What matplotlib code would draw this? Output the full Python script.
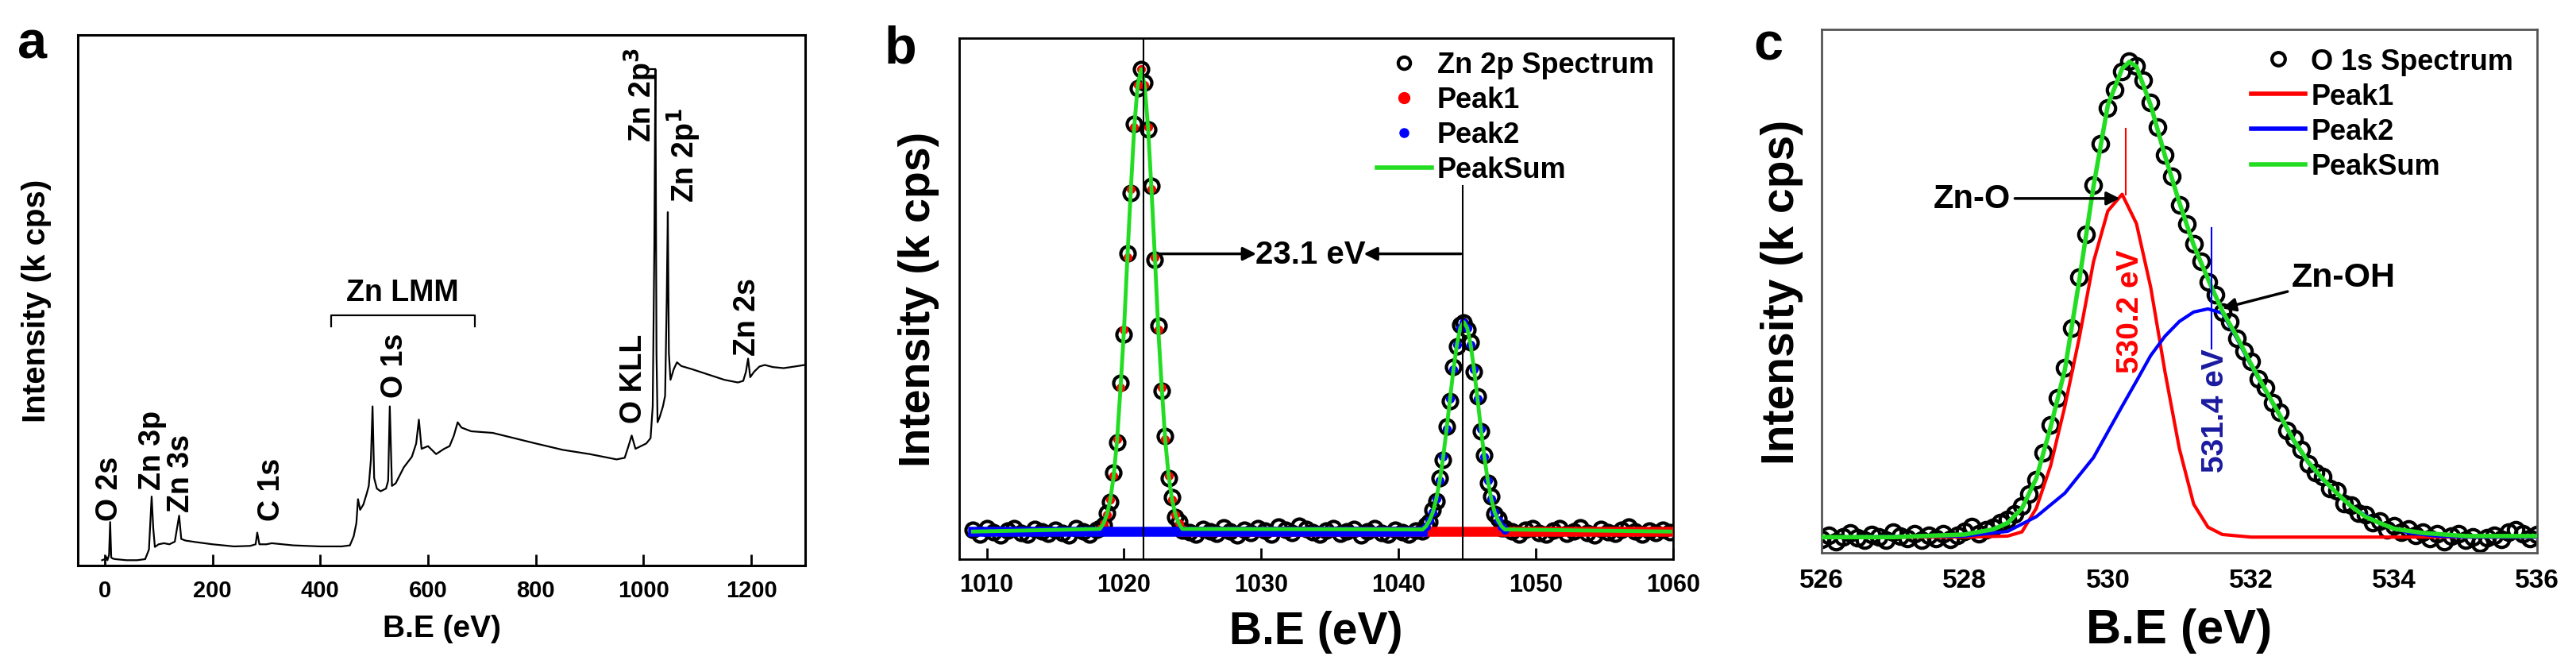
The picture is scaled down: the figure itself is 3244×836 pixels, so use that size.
import numpy as np
import matplotlib
matplotlib.use("Agg")
import matplotlib.pyplot as plt
from matplotlib.lines import Line2D

plt.rcParams['font.family'] = ['Liberation Sans', 'DejaVu Sans']
plt.rcParams['font.weight'] = 'bold'
plt.rcParams['mathtext.default'] = 'bf'

# ---------------- Panel a: survey spectrum ----------------
survey_be = [-5, 0, 3, 5, 8, 10, 12, 15, 20, 40, 60, 75, 82, 87, 90, 93, 100, 110, 120, 130,
             138, 142, 150, 170, 200, 240, 270, 280, 283, 287, 300, 310, 350, 400, 440, 455,
             462, 467, 470, 474, 480, 486, 490, 494, 497, 500, 505, 512, 522, 526, 529, 533,
             540, 555, 570, 578, 583, 588, 600, 615, 630, 640, 648, 655, 662, 680, 720, 760,
             800, 850, 900, 950, 965, 972, 978, 985, 995, 1005, 1013, 1017, 1020, 1022, 1024,
             1026, 1030, 1036, 1040, 1043, 1045, 1047, 1050, 1056, 1062, 1070, 1090, 1120,
             1150, 1175, 1185, 1190, 1194, 1198, 1205, 1215, 1225, 1240, 1260, 1280, 1299]
survey_int = [1.0, 1.2, 1.6, 1.0, 2.0, 8.2, 1.5, 1.3, 1.2, 1.0, 1.0, 1.2, 3.0, 13.0, 7.0, 3.5,
              4.0, 4.2, 4.0, 4.5, 9.4, 5.0, 4.7, 4.4, 4.0, 3.6, 3.7, 4.0, 6.2, 4.0, 4.0, 4.2,
              3.8, 3.6, 3.6, 3.8, 5.5, 8.0, 12.5, 10.5, 11.5, 13.5, 15.0, 20.0, 30.0, 16.5,
              14.5, 14.0, 14.5, 16.0, 30.0, 15.0, 15.5, 18.5, 20.5, 23.0, 27.5, 22.0, 22.5,
              21.0, 22.0, 22.5, 24.5, 27.0, 26.0, 25.3, 25.0, 24.0, 23.0, 21.8, 21.0, 20.0,
              20.3, 22.5, 24.5, 22.0, 22.5, 23.0, 24.0, 30.0, 60.0, 93.5, 40.0, 27.0, 28.0,
              30.0, 32.0, 50.0, 66.6, 40.0, 35.0, 37.0, 38.3, 37.6, 37.0, 36.0, 35.0, 34.5,
              34.8, 36.5, 39.0, 35.5, 36.5, 37.5, 37.8, 37.4, 37.2, 37.5, 37.8]
survey_ticks = [0, 200, 400, 600, 800, 1000, 1200]

# ---------------- Panel b: Zn 2p ----------------
b_base1_y = [5.6, 4.8, 5.9, 5.2, 4.6, 5.5, 6.0, 5.0, 4.7, 5.8, 5.3, 4.9, 5.7, 5.1, 4.6, 5.9, 5.4, 4.8, 5.6]
b_peak1_y = [5.9, 6.5, 8.9, 11.0, 16.6, 22.4, 33.8, 43.1, 58.7, 70.2, 83.6, 90.4, 94.0, 91.5, 82.5,
             71.6, 57.4, 44.8, 32.3, 23.7, 15.5, 11.9, 8.1, 7.2, 5.5]
b_base2_y = [5.2, 4.7, 5.8, 5.4, 4.9, 6.1, 5.3, 4.6, 5.7, 5.0, 5.9, 5.5, 4.8, 6.2, 5.6, 5.1, 6.4,
             5.8, 5.2, 4.7, 5.5, 6.0, 4.9, 5.3, 5.8, 4.6, 5.4, 5.9, 5.0, 4.8, 5.6, 5.2, 4.7, 5.5]
b_peak2_y = [5.4, 6.6, 7.1, 9.4, 11.2, 15.6, 19.1, 25.4, 30.3, 36.9, 40.8, 44.9, 45.5, 44.0, 41.6,
             35.9, 31.2, 24.6, 20.0, 14.7, 12.0, 8.7, 7.7, 6.0, 5.9]
b_base3_y = [5.3, 4.8, 5.7, 6.0, 5.1, 4.7, 5.5, 5.9, 4.9, 5.4, 6.1, 5.0, 4.6, 5.8, 5.2, 4.9, 5.6,
             6.2, 5.3, 4.8, 5.5, 5.0, 5.7, 5.2]
b_fit1_y = [5.8, 6.8, 8.5, 11.4, 16.0, 23.0, 33.0, 44.0, 58.0, 71.0, 83.0, 91.0, 94.0, 91.0, 83.0,
            71.0, 58.0, 44.0, 33.0, 23.0, 16.0, 11.4, 8.5, 6.8, 5.8]
b_fit2_y = [5.7, 6.3, 7.4, 9.0, 11.6, 15.1, 19.6, 25.0, 30.8, 36.4, 41.2, 44.4, 45.5, 44.4, 41.2,
            36.4, 30.8, 25.0, 19.6, 15.1, 11.6, 9.0, 7.4, 6.3, 5.7]
b_baseline = 5.3
b_centers = [1021.4, 1044.7]
b_ticks = [1010, 1020, 1030, 1040, 1050, 1060]

# ---------------- Panel c: O 1s ----------------
c_spec_y = [2.6, 3.4, 2.2, 3.0, 3.8, 2.9, 2.4, 3.5, 3.1, 2.5, 3.9, 3.2, 2.7, 3.6, 2.4, 3.3, 2.8, 3.7, 2.6, 3.4,
            4.1, 5.0, 3.6, 4.4, 4.9, 5.8, 6.3, 7.4, 9.0, 11.2,
            14.0, 19.1, 24.5, 29.6, 35.4, 43.0, 52.6, 60.8, 70.3, 78.2,
            85.0, 88.4, 92.0, 94.0, 93.0, 90.3, 86.0, 81.4, 76.0, 71.9,
            66.4, 62.8, 59.0, 55.7, 51.8, 49.3, 46.0, 44.2, 41.0, 38.5,
            36.6, 33.2, 31.6, 28.7, 26.9, 23.4, 21.9, 19.8, 17.0, 15.4,
            14.6, 12.3, 11.8, 9.4, 9.1, 7.6, 7.3, 5.7, 6.1, 4.4,
            5.2, 3.9, 4.6, 3.3, 4.0, 2.8, 3.6, 2.1, 3.2, 3.7,
            2.4, 3.1, 1.8, 2.9, 3.3, 2.6, 3.9, 4.4, 3.6, 2.7, 3.5]
c_sum_x = [526.0, 527.0, 528.0, 528.4, 528.6, 528.8, 529.0, 529.2, 529.4, 529.6, 529.8, 530.0, 530.2,
           530.3, 530.4, 530.6, 530.8, 531.0, 531.2, 531.4, 531.6, 531.8, 532.0, 532.2, 532.4,
           532.6, 532.8, 533.0, 533.2, 533.4, 533.6, 533.8, 534.0, 534.4, 535.0, 536.0]
c_sum_y = [3.0, 3.0, 3.5, 4.5, 5.7, 8.5, 14.2, 24.0, 35.0, 52.0, 70.0, 85.5, 92.5, 93.8, 92.9, 85.5,
           75.8, 66.9, 58.8, 52.3, 46.2, 41.4, 36.1, 31.2, 26.4, 21.5, 17.4, 14.2, 11.4, 8.9,
           6.9, 5.7, 4.6, 3.8, 3.2, 3.2]
c_p1_x = [526.0, 528.0, 528.6, 528.8, 529.0, 529.2, 529.4, 529.6, 529.8, 530.0, 530.2, 530.4, 530.6,
          530.8, 531.0, 531.2, 531.4, 531.6, 532.0, 536.0]
c_p1_y = [3.0, 3.0, 3.2, 4.0, 8.5, 16.6, 28.0, 41.0, 55.6, 65.3, 68.5, 62.9, 50.7, 34.5, 19.9, 9.3,
          4.9, 3.5, 3.0, 3.0]
c_p2_x = [526.0, 528.0, 528.6, 529.0, 529.4, 529.8, 530.0, 530.2, 530.4, 530.6, 530.8, 531.0, 531.2,
          531.4, 531.6, 531.8, 532.0, 532.2, 532.4, 532.6, 532.8, 533.0, 533.4, 533.8, 534.2,
          534.6, 535.0, 536.0]
c_p2_y = [3.0, 3.2, 4.1, 6.9, 11.4, 18.2, 23.1, 28.0, 32.8, 37.7, 41.4, 44.2, 46.0, 46.6, 45.8, 41.0,
          35.8, 31.0, 26.2, 21.3, 17.2, 14.0, 8.8, 5.6, 3.8, 3.2, 3.0, 3.0]
c_ticks = [526, 528, 530, 532, 534, 536]

W, H = 32.44, 8.37
fig = plt.figure(figsize=(W, H), dpi=100)

def style_axes(ax, lw, color='black'):
    for s in ax.spines.values():
        s.set_linewidth(lw)
        s.set_color(color)
    ax.set_yticks([])

# ===== Panel a =====
axa = fig.add_axes([98/3244, 1-713/837, 916/3244, 668/837])
axa.plot(survey_be, survey_int, color='black', lw=1.6)
axa.set_xlim(-50, 1300)
axa.set_ylim(0, 100)
axa.set_xticks(survey_ticks)
axa.tick_params(axis='x', direction='in', length=10, width=2, labelsize=21, pad=12)
style_axes(axa, 2.2)
axa.set_xlabel('B.E (eV)', fontsize=28, fontweight='bold')
axa.set_ylabel('Intensity (k cps)', fontsize=29, fontweight='bold')
axa.yaxis.set_label_coords(-0.036, 0.5)
axa.xaxis.set_label_coords(0.5, -0.091)
lab_kw = dict(rotation=90, fontsize=27, fontweight='bold', ha='center', va='bottom')
axa.text(9, 8.6, 'O 2s', **lab_kw)
axa.text(89, 14.4, 'Zn 3p', **lab_kw)
axa.text(141, 10.2, 'Zn 3s', **lab_kw)
axa.text(310, 8.6, 'C 1s', **lab_kw)
axa.text(538, 31.8, 'O 1s', **lab_kw)
axa.text(981, 27.0, 'O KLL', **lab_kw)
axa.text(995, 80.0, r'Zn 2p$^{3}$', **lab_kw)
axa.text(1075, 68.5, r'Zn 2p$^{1}$', **lab_kw)
axa.text(1192, 39.7, 'Zn 2s', **lab_kw)
axa.text(553, 51.5, 'Zn LMM', fontsize=27, fontweight='bold', ha='center', va='center')
axa.plot([420, 420, 687, 687], [45.0, 47.1, 47.1, 45.0], color='black', lw=1.6)
axa.plot([1012, 1022], [93.5, 93.5], color='black', lw=1.6)
fig.text(41/3244, 1-57/837, 'a', fontsize=48, fontweight='bold', ha='center', va='center')

# ===== Panel b =====
axb = fig.add_axes([1208/3244, 1-705/837, 899/3244, 656/837])
x_b1 = np.arange(1009.0, 1018.01, 0.5)
x_p1 = np.arange(1018.25, 1024.26, 0.25)
x_b2 = np.arange(1024.75, 1041.26, 0.5)
x_p2 = np.arange(1041.75, 1047.76, 0.25)
x_b3 = np.arange(1048.25, 1059.76, 0.5)
spec_bx = np.concatenate([x_b1, x_p1, x_b2, x_p2, x_b3])
spec_by = np.concatenate([b_base1_y, b_peak1_y, b_base2_y, b_peak2_y, b_base3_y])
axb.plot(spec_bx, spec_by, 'o', mfc='none', mec='black', ms=13, mew=3, zorder=2)
axb.plot(x_p1, b_fit1_y, 'o', color='red', ms=7, zorder=3)
axb.plot([x_p1[-1], 1059.8], [b_baseline, b_baseline], color='red', lw=9, zorder=3)
axb.plot([1009.0, x_p2[0]], [b_baseline, b_baseline], color='blue', lw=9, zorder=3)
axb.plot(x_p2, b_fit2_y, 'o', color='blue', ms=7, zorder=3)
sum_x = np.concatenate([[1009.0], x_p1, x_p2, [1059.8]])
sum_y = np.concatenate([[b_baseline], b_fit1_y, b_fit2_y, [b_baseline]])
axb.plot(sum_x, sum_y, color='#22dd22', lw=3.5, zorder=4)
axb.axvline(b_centers[0], color='black', lw=1.5, zorder=5)
axb.plot([b_centers[1], b_centers[1]], [0, 71.7], color='black', lw=1.5, zorder=5)
axb.annotate('', xy=(1029.8, 58.6), xytext=(1022.4, 58.6),
             arrowprops=dict(arrowstyle='-|>', color='black', lw=2.5, mutation_scale=25), zorder=6)
axb.annotate('', xy=(1037.3, 58.6), xytext=(1044.7, 58.6),
             arrowprops=dict(arrowstyle='-|>', color='black', lw=2.5, mutation_scale=25), zorder=6)
axb.text(1033.6, 58.6, '23.1 eV', fontsize=29, fontweight='bold', ha='center', va='center', zorder=6)
axb.set_xlim(1008, 1060)
axb.set_ylim(0, 100)
axb.set_xticks(b_ticks)
axb.tick_params(axis='x', direction='in', length=10, width=2, labelsize=22, pad=12)
style_axes(axb, 2.0)
axb.set_xlabel('B.E (eV)', fontsize=41, fontweight='bold')
axb.set_ylabel('Intensity (k cps)', fontsize=40, fontweight='bold')
axb.yaxis.set_label_coords(-0.028, 0.5)
axb.xaxis.set_label_coords(0.5, -0.098)
hb = [Line2D([], [], ls='none', marker='o', mfc='none', mec='black', ms=11, mew=3),
      Line2D([], [], ls='none', marker='o', color='red', ms=10),
      Line2D([], [], ls='none', marker='o', color='blue', ms=8),
      Line2D([], [], color='#22dd22', lw=4)]
axb.legend(hb, ['Zn 2p Spectrum', 'Peak1', 'Peak2', 'PeakSum'], loc='upper left',
           bbox_to_anchor=(0.585, 0.975), frameon=False, handlelength=1.9,
           handletextpad=0.2, labelspacing=0.25, borderpad=0, borderaxespad=0,
           prop={'weight': 'bold', 'size': 26})
fig.text(1134/3244, 1-62/837, 'b', fontsize=48, fontweight='bold', ha='center', va='center')

# ===== Panel c =====
axc = fig.add_axes([2294/3244, 1-697/837, 901/3244, 659/837])
c_x = np.round(np.arange(526.0, 536.001, 0.1), 2)
axc.plot(c_x, c_spec_y, 'o', mfc='none', mec='black', ms=14, mew=3, zorder=2)
axc.plot(c_p1_x, c_p1_y, color='red', lw=3, zorder=3)
axc.plot(c_p2_x, c_p2_y, color='blue', lw=3, zorder=3)
axc.plot(c_sum_x, c_sum_y, color='#22dd22', lw=4, zorder=4)
axc.plot([530.25, 530.25], [68.5, 81.0], color='red', lw=1.5, zorder=5)
axc.plot([531.45, 531.45], [39.0, 62.0], color='blue', lw=1.5, zorder=5)
axc.text(530.32, 46.2, '530.2 eV', rotation=90, color='red', fontsize=28, fontweight='bold',
         ha='center', va='center', zorder=6)
axc.text(531.5, 27.3, '531.4 eV', rotation=90, color='#1a1aa0', fontsize=28, fontweight='bold',
         ha='center', va='center', zorder=6)
axc.annotate('Zn-O', xy=(530.2, 67.7), xytext=(528.1, 67.7), fontsize=30, fontweight='bold',
             ha='center', va='center',
             arrowprops=dict(arrowstyle='-|>', color='black', lw=2.5, mutation_scale=25), zorder=6)
axc.annotate('Zn-OH', xy=(531.57, 46.6), xytext=(533.3, 52.7), fontsize=31, fontweight='bold',
             ha='center', va='center',
             arrowprops=dict(arrowstyle='-|>', color='black', lw=2.5, mutation_scale=25), zorder=6)
axc.set_xlim(526, 536)
axc.set_ylim(0, 100)
axc.set_xticks(c_ticks)
axc.tick_params(axis='x', direction='in', length=0, labelsize=24, pad=14)
style_axes(axc, 2.0, '#555555')
axc.set_xlabel('B.E (eV)', fontsize=44, fontweight='bold')
axc.set_ylabel('Intensity (k cps)', fontsize=41, fontweight='bold')
axc.yaxis.set_label_coords(-0.025, 0.5)
axc.xaxis.set_label_coords(0.5, -0.105)
hc = [Line2D([], [], ls='none', marker='o', mfc='none', mec='black', ms=12, mew=3),
      Line2D([], [], color='red', lw=4),
      Line2D([], [], color='blue', lw=4),
      Line2D([], [], color='#22dd22', lw=4)]
axc.legend(hc, ['O 1s Spectrum', 'Peak1', 'Peak2', 'PeakSum'], loc='upper left',
           bbox_to_anchor=(0.6, 0.965), frameon=False, handlelength=1.9,
           handletextpad=0.2, labelspacing=0.25, borderpad=0, borderaxespad=0,
           prop={'weight': 'bold', 'size': 26})
fig.text(2227/3244, 1-58/837, 'c', fontsize=48, fontweight='bold', ha='center', va='center')

fig.savefig('out.png', dpi=100, facecolor='white')
